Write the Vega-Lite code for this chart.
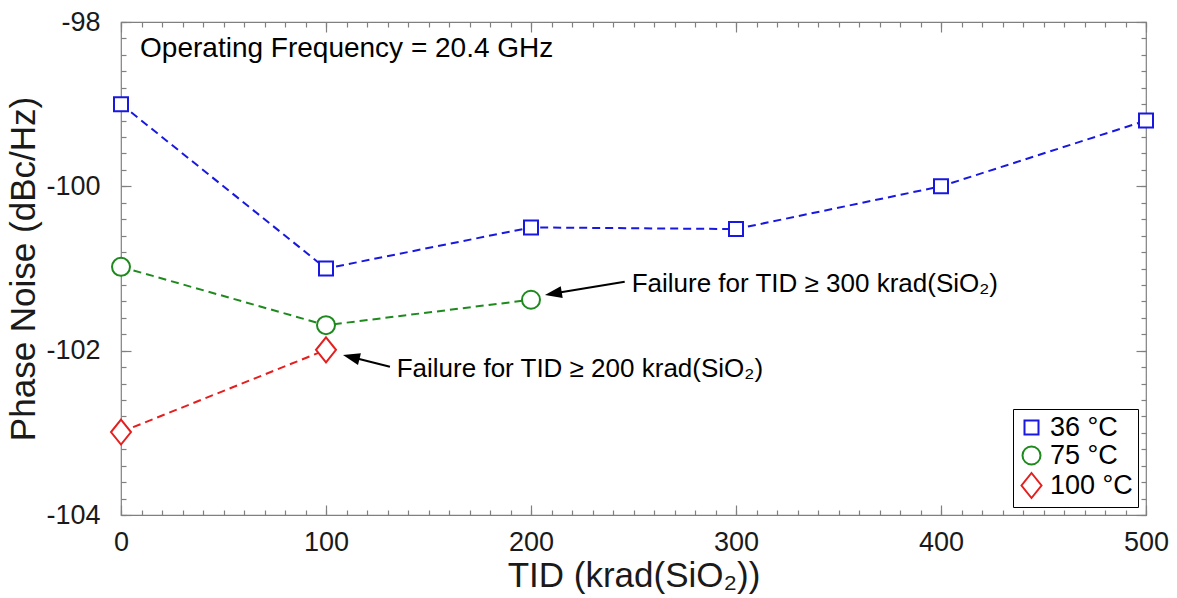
{
  "$schema": "https://vega.github.io/schema/vega-lite/v6.json",
  "width": 1025,
  "height": 493,
  "autosize": {"type": "none"},
  "padding": {"left": 121, "top": 22, "right": 31, "bottom": 83},
  "background": "white",
  "config": {
    "font": "Liberation Sans",
    "view": {"stroke": "#808080", "strokeWidth": 1.2},
    "axis": {"grid": false, "domain": false, "ticks": true, "tickColor": "#808080", "tickWidth": 1.2, "labelColor": "#1a1a1a", "titleColor": "#1a1a1a", "labelFlush": false, "labelOverlap": false, "titleFontWeight": "normal", "labelFont": "Liberation Sans", "titleFont": "Liberation Sans"}
  },
  "data": {
    "values": [
      {"series": "36 °C", "tid": 0, "pn": -99.0},
      {"series": "36 °C", "tid": 100, "pn": -101.0},
      {"series": "36 °C", "tid": 200, "pn": -100.5},
      {"series": "36 °C", "tid": 300, "pn": -100.52},
      {"series": "36 °C", "tid": 400, "pn": -100.0},
      {"series": "36 °C", "tid": 500, "pn": -99.2},
      {"series": "75 °C", "tid": 0, "pn": -100.98},
      {"series": "75 °C", "tid": 100, "pn": -101.69},
      {"series": "75 °C", "tid": 200, "pn": -101.38},
      {"series": "100 °C", "tid": 0, "pn": -102.99},
      {"series": "100 °C", "tid": 100, "pn": -101.99}
    ]
  },
  "layer": [
    {
      "mark": {"type": "line", "strokeDash": [8, 5], "strokeWidth": 2},
      "encoding": {
        "x": {"field": "tid", "type": "quantitative", "scale": {"domain": [0, 500], "nice": false, "zero": false},
          "axis": {"orient": "bottom", "offset": -10, "values": [0, 100, 200, 300, 400, 500], "tickSize": 10, "labelFontSize": 27, "labelPadding": 14, "labelExpr": "'' + datum.value", "title": "TID (krad(SiO₂))", "titleFontSize": 35, "titlePadding": 3}},
        "y": {"field": "pn", "type": "quantitative", "scale": {"domain": [-104, -98], "nice": false, "zero": false},
          "axis": {"orient": "left", "offset": -10, "values": [-98, -100, -102, -104], "tickSize": 10, "labelFontSize": 27, "labelPadding": 21, "labelExpr": "'' + datum.value", "title": "Phase Noise (dBc/Hz)", "titleFontSize": 35, "titlePadding": 4}},
        "color": {"field": "series", "type": "nominal", "scale": {"domain": ["36 °C", "75 °C", "100 °C"], "range": ["#1818e0", "#1e8a1e", "#e51e1e"]},
          "legend": {"title": null, "orient": "bottom-right", "offset": 8, "padding": 5, "strokeColor": "black", "fillColor": "white", "labelFontSize": 27, "labelColor": "black", "labelFont": "Liberation Sans", "symbolSize": 400, "labelOffset": 5, "rowPadding": 0, "symbolStrokeWidth": 2}}
      }
    },
    {
      "mark": {"type": "point", "filled": false, "fill": "white", "strokeWidth": 2, "size": 400, "opacity": 1},
      "encoding": {
        "x": {"field": "tid", "type": "quantitative",
          "axis": {"orient": "bottom", "offset": -5, "values": [0,10,20,30,40,50,60,70,80,90,100,110,120,130,140,150,160,170,180,190,200,210,220,230,240,250,260,270,280,290,300,310,320,330,340,350,360,370,380,390,400,410,420,430,440,450,460,470,480,490,500], "tickSize": 5, "labels": false, "title": null}},
        "y": {"field": "pn", "type": "quantitative",
          "axis": {"orient": "left", "offset": -5, "values": [-104,-103.8,-103.6,-103.4,-103.2,-103,-102.8,-102.6,-102.4,-102.2,-102,-101.8,-101.6,-101.4,-101.2,-101,-100.8,-100.6,-100.4,-100.2,-100,-99.8,-99.6,-99.4,-99.2,-99,-98.8,-98.6,-98.4,-98.2,-98], "tickSize": 5, "labels": false, "title": null}},
        "color": {"field": "series", "type": "nominal", "scale": {"domain": ["36 °C", "75 °C", "100 °C"], "range": ["#1818e0", "#1e8a1e", "#e51e1e"]},
          "legend": {"title": null, "orient": "bottom-right", "offset": 8, "padding": 5, "strokeColor": "black", "fillColor": "white", "labelFontSize": 27, "labelColor": "black", "labelFont": "Liberation Sans", "symbolSize": 400, "labelOffset": 5, "rowPadding": 0, "symbolStrokeWidth": 2}},
        "shape": {"field": "series", "type": "nominal", "scale": {"domain": ["36 °C", "75 °C", "100 °C"], "range": ["M-0.7,-0.7H0.7V0.7H-0.7Z", "M-0.9,0A0.9,0.9,0,1,0,0.9,0A0.9,0.9,0,1,0,-0.9,0Z", "M0,-1.25L1,0L0,1.25L-1,0Z"]},
          "legend": {"title": null, "orient": "bottom-right", "offset": 8, "padding": 5, "strokeColor": "black", "fillColor": "white", "labelFontSize": 27, "labelColor": "black", "labelFont": "Liberation Sans", "symbolSize": 400, "labelOffset": 5, "rowPadding": 0, "symbolStrokeWidth": 2}}
      }
    },
    {
      "mark": {"type": "point", "opacity": 0},
      "encoding": {
        "x": {"field": "tid", "type": "quantitative",
          "axis": {"orient": "top", "offset": -10, "values": [0, 100, 200, 300, 400, 500], "tickSize": 10, "labels": false, "title": null}},
        "y": {"field": "pn", "type": "quantitative",
          "axis": {"orient": "right", "offset": -10, "values": [-98, -100, -102, -104], "tickSize": 10, "labels": false, "title": null}}
      }
    },
    {
      "mark": {"type": "point", "opacity": 0},
      "encoding": {
        "x": {"field": "tid", "type": "quantitative",
          "axis": {"orient": "top", "offset": -5, "values": [0,10,20,30,40,50,60,70,80,90,100,110,120,130,140,150,160,170,180,190,200,210,220,230,240,250,260,270,280,290,300,310,320,330,340,350,360,370,380,390,400,410,420,430,440,450,460,470,480,490,500], "tickSize": 5, "labels": false, "title": null}},
        "y": {"field": "pn", "type": "quantitative",
          "axis": {"orient": "right", "offset": -5, "values": [-104,-103.8,-103.6,-103.4,-103.2,-103,-102.8,-102.6,-102.4,-102.2,-102,-101.8,-101.6,-101.4,-101.2,-101,-100.8,-100.6,-100.4,-100.2,-100,-99.8,-99.6,-99.4,-99.2,-99,-98.8,-98.6,-98.4,-98.2,-98], "tickSize": 5, "labels": false, "title": null}}
      }
    },
    {
      "data": {"values": [{"label": "Operating Frequency = 20.4 GHz"}]},
      "mark": {"type": "text", "align": "left", "baseline": "alphabetic", "fontSize": 28, "color": "black", "font": "Liberation Sans"},
      "encoding": {
        "x": {"datum": 9.3, "type": "quantitative", "axis": null},
        "y": {"datum": -98.43, "type": "quantitative", "axis": null},
        "text": {"field": "label"}
      }
    },
    {
      "data": {"values": [{"label": "Failure for TID ≥ 300 krad(SiO₂)"}]},
      "mark": {"type": "text", "align": "left", "baseline": "alphabetic", "fontSize": 26, "color": "black", "font": "Liberation Sans"},
      "encoding": {
        "x": {"datum": 249.1, "type": "quantitative", "axis": null},
        "y": {"datum": -101.29, "type": "quantitative", "axis": null},
        "text": {"field": "label"}
      }
    },
    {
      "data": {"values": [{"label": "Failure for TID ≥ 200 krad(SiO₂)"}]},
      "mark": {"type": "text", "align": "left", "baseline": "alphabetic", "fontSize": 26, "color": "black", "font": "Liberation Sans"},
      "encoding": {
        "x": {"datum": 134.5, "type": "quantitative", "axis": null},
        "y": {"datum": -102.32, "type": "quantitative", "axis": null},
        "text": {"field": "label"}
      }
    },
    {
      "data": {"values": [{"arrow": "a300"}]},
      "mark": {"type": "rule", "color": "black", "strokeWidth": 2},
      "encoding": {
        "x": {"datum": 245.7, "type": "quantitative", "axis": null},
        "x2": {"datum": 210.9},
        "y": {"datum": -101.16, "type": "quantitative", "axis": null},
        "y2": {"datum": -101.305}
      }
    },
    {
      "data": {"values": [{"arrow": "a300"}]},
      "mark": {"type": "point", "shape": "M-1,0L1,-0.7L1,0.7Z", "size": 289, "filled": true, "color": "black", "opacity": 1, "angle": 350.6},
      "encoding": {
        "x": {"datum": 210.9, "type": "quantitative", "axis": null},
        "y": {"datum": -101.305, "type": "quantitative", "axis": null}
      }
    },
    {
      "data": {"values": [{"arrow": "a200"}]},
      "mark": {"type": "rule", "color": "black", "strokeWidth": 2},
      "encoding": {
        "x": {"datum": 131.2, "type": "quantitative", "axis": null},
        "x2": {"datum": 112.3},
        "y": {"datum": -102.195, "type": "quantitative", "axis": null},
        "y2": {"datum": -102.078}
      }
    },
    {
      "data": {"values": [{"arrow": "a200"}]},
      "mark": {"type": "point", "shape": "M-1,0L1,-0.7L1,0.7Z", "size": 289, "filled": true, "color": "black", "opacity": 1, "angle": 14},
      "encoding": {
        "x": {"datum": 112.3, "type": "quantitative", "axis": null},
        "y": {"datum": -102.078, "type": "quantitative", "axis": null}
      }
    }
  ],
  "resolve": {"axis": {"x": "independent", "y": "independent"}}
}
